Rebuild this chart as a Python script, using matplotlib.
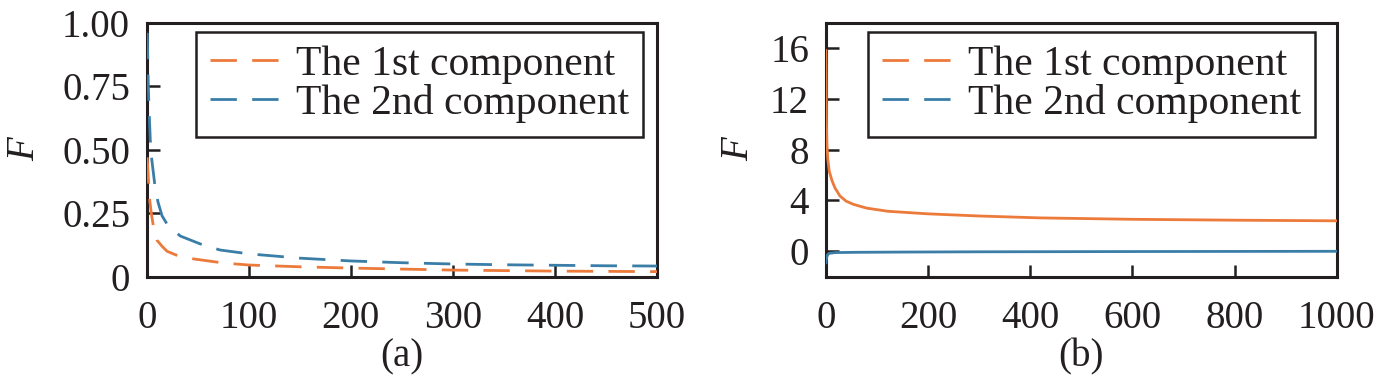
import matplotlib
matplotlib.use("Agg")
import matplotlib.pyplot as plt
from matplotlib.lines import Line2D

# ---- data ----
a_x1 = [0.5, 1, 2, 3, 4.5, 6.5, 10, 15, 20, 29, 46, 75, 100, 150, 200, 250, 300, 350, 400, 450, 500]
a_y1 = [0.47, 0.43, 0.36, 0.30, 0.25, 0.20, 0.144, 0.12, 0.10, 0.085, 0.07, 0.054, 0.046, 0.039,
        0.034, 0.030, 0.026, 0.024, 0.022, 0.021, 0.020]
a_x2 = [0.5, 1, 1.5, 2.5, 3.5, 5, 8, 11, 15, 21, 33, 55, 72, 100, 150, 200, 250, 300, 350, 400,
        450, 500]
a_y2 = [0.96, 0.87, 0.76, 0.64, 0.54, 0.46, 0.36, 0.295, 0.24, 0.20, 0.16, 0.125, 0.105, 0.09,
        0.073, 0.062, 0.055, 0.050, 0.047, 0.045, 0.043, 0.042]

b_x1 = [0.5, 1, 1.5, 2.5, 4, 7, 12, 18, 28, 40, 54, 80, 122, 200, 300, 420, 600, 800, 1000]
b_y1 = [15.8, 12.5, 10.0, 8.3, 7.3, 6.3, 5.6, 5.0, 4.35, 3.95, 3.7, 3.4, 3.15, 2.95, 2.78, 2.63,
        2.52, 2.45, 2.4]
b_x2 = [0.5, 1, 2, 4, 8, 20, 60, 150, 300, 600, 1000]
b_y2 = [-0.9, -0.7, -0.45, -0.25, -0.15, -0.1, -0.08, -0.06, -0.04, -0.02, 0.0]

labels = ["The 1st component", "The 2nd component"]
a_xticks = [0, 100, 200, 300, 400, 500]
a_yticks = [0, 0.25, 0.50, 0.75, 1.00]
a_yticklabels = ["0", "0.25", "0.50", "0.75", "1.00"]
b_xticks = [0, 200, 400, 600, 800, 1000]
b_yticks = [0, 4, 8, 12, 16]

# ---- style ----
plt.rcParams['font.family'] = ['Liberation Serif', 'DejaVu Serif']
plt.rcParams['mathtext.fontset'] = 'custom'
plt.rcParams['mathtext.it'] = 'Liberation Serif:italic'
TXT = '#231f20'
C1 = '#ec7a3b'
C2 = '#3a7ea8'
FS = 28
LFS = 30
LW = 2.0
DASH = (9.5, 5.5)

fig = plt.figure(figsize=(13.86, 3.87), dpi=100)
axA = fig.add_axes([146.7/1386, 1-276.7/387, (657-146.7)/1386, 254/387])
axB = fig.add_axes([825.7/1386, 1-276.7/387, (1336.7-825.7)/1386, 254/387])

axA.plot(a_x1, a_y1, color=C1, lw=LW, dashes=DASH, zorder=3)
axA.plot(a_x2, a_y2, color=C2, lw=LW, dashes=DASH, zorder=3)
axB.plot(b_x1, b_y1, color=C1, lw=LW, zorder=3)
axB.plot(b_x2, b_y2, color=C2, lw=LW, zorder=3)

axA.set_xlim(0, 500)
axA.set_ylim(0, 1.0)
axA.set_xticks(a_xticks)
axA.set_yticks(a_yticks)
axA.set_yticklabels(a_yticklabels)
axB.set_xlim(0, 1000)
axB.set_ylim(-2, 18)
axB.set_xticks(b_xticks)
axB.set_yticks(b_yticks)

handles = [Line2D([], [], color=C1, lw=LW, dashes=DASH),
           Line2D([], [], color=C2, lw=LW, dashes=DASH)]

for ax, lab, lx, legx in [(axA, "(a)", -0.2404, 0.9726), (axB, "(b)", -0.1697, 0.9575)]:
    for s in ax.spines.values():
        s.set_linewidth(2.2)
        s.set_color(TXT)
    ax.tick_params(direction='in', length=9, width=1.8, labelsize=FS,
                   colors=TXT, pad=12)
    ax.tick_params(axis='x', pad=17)
    ax.set_ylabel(r"$F$", fontsize=FS, color=TXT)
    ax.yaxis.set_label_coords(lx, 0.507)
    ax.set_xlabel(lab, fontsize=FS, color=TXT)
    ax.xaxis.set_label_coords(0.5, -0.315)
    ax.xaxis.label.set_va('center')
    ax.yaxis.label.set_va('center')
    leg = ax.legend(handles, labels, loc='upper right', bbox_to_anchor=(legx, 0.9646),
                    borderaxespad=0, fontsize=LFS, frameon=True, fancybox=False,
                    framealpha=1, edgecolor=TXT, handlelength=1.75, handletextpad=0.32,
                    labelspacing=0.0, borderpad=0.33)
    leg.get_frame().set_linewidth(1.8)
    leg.set_zorder(5)
    for t in leg.get_texts():
        t.set_color(TXT)

fig.savefig("out.png", dpi=100)
